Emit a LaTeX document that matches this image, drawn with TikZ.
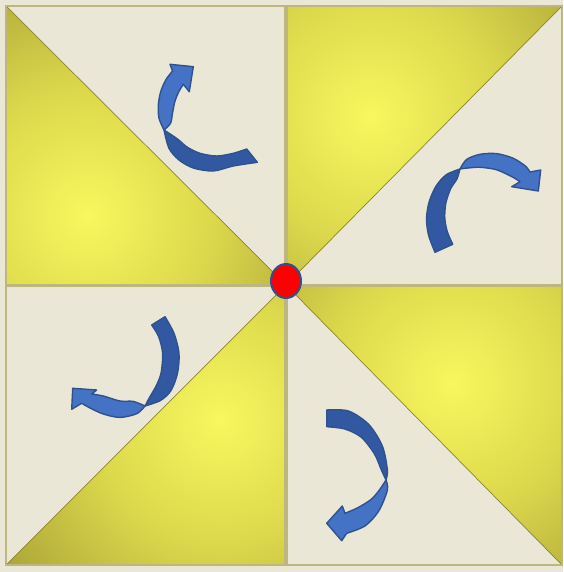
\documentclass[tikz,border=0pt]{standalone}
\usetikzlibrary{shapes.geometric}
\definecolor{cCream}{HTML}{EAE7D7}
\definecolor{cFrame}{HTML}{BDB67E}
\definecolor{cHi}{HTML}{F8F75E}
\definecolor{cMid}{HTML}{DCD84C}
\definecolor{cLo}{HTML}{A39C34}
\definecolor{cArrowLt}{HTML}{4472C4}
\definecolor{cArrowDk}{HTML}{3158A0}
\definecolor{cArrowEdge}{HTML}{2F528F}
\pgfdeclareradialshading{glow}{\pgfpointorigin}{color(0bp)=(cHi); color(11bp)=(cMid); color(25bp)=(cLo); color(50bp)=(cLo)}

\begin{document}
\begin{tikzpicture}[
  x=1pt,y=-1pt,
  frame/.style={draw=cFrame,line width=1.1pt},
  fold/.style={draw=cLo!85!black,line width=0.7pt},
  backface/.style={fill=cArrowDk,draw=cArrowEdge,line width=1.4pt,line join=round},
  frontface/.style={fill=cArrowLt,draw=cArrowEdge,line width=1.4pt,line join=round},
  hub/.style={ellipse,fill=red,draw=cArrowEdge,line width=2pt,
              minimum width=30pt,minimum height=34pt,inner sep=0pt}
]
\fill[cCream] (0,0) rectangle (563,572);
\useasboundingbox (0,0) rectangle (563,572);

% yellow halves of the four squares
\begin{scope}
  \clip (6,6) -- (6,285) -- (286,285) -- cycle;
  \shade[shading=glow] (87,215) circle (285pt);
\end{scope}
\begin{scope}
  \clip (286,6) -- (562,6) -- (286,285) -- cycle;
  \shade[shading=glow] (370,117) circle (285pt);
\end{scope}
\begin{scope}
  \clip (286,285) -- (286,565) -- (6,565) -- cycle;
  \shade[shading=glow] (220,420) circle (285pt);
\end{scope}
\begin{scope}
  \clip (286,285) -- (562,285) -- (562,565) -- cycle;
  \shade[shading=glow] (453,383) circle (285pt);
\end{scope}
\draw[fold] (6,6) -- (286,285);
\draw[fold] (562,6) -- (286,285);
\draw[fold] (6,565) -- (286,285);
\draw[fold] (562,565) -- (286,285);

\draw[frame] (6,6) rectangle (285,285);
\draw[frame] (287,6) rectangle (562,285);
\draw[frame] (6,286) rectangle (285,565);
\draw[frame] (287,286) rectangle (562,565);

% top left turn
\draw[backface] plot[smooth] coordinates {(164,130) (169,148.3) (179,160) (193.3,168) (213.3,171) (233.3,166) (257.3,162.3)}
  -- plot[smooth] coordinates {(246.7,149) (233.3,153.3) (216.7,156) (200,153.3) (187,147) (177.5,139) (164,130)} -- cycle;
\draw[frontface] plot[smooth] coordinates {(164,130) (159,118.3) (158.3,105) (160.7,91.7) (165.7,80) (172.5,71)}
  -- (170,64.3) -- (193.3,66.7) -- (189.3,91.7) --
  plot[smooth] coordinates {(183.3,84.3) (178.8,91.7) (174.8,101.7) (172.5,113.3) (170.5,123.3) (164,130)} -- cycle;

% top right turn
\draw[backface] plot[smooth] coordinates {(460,169) (446.2,174.8) (436,186.2) (429.2,201.7) (426.5,218.3) (428.5,235) (435,252.3)}
  -- plot[smooth] coordinates {(452.7,244.3) (447.3,231.7) (444.8,218.3) (445.8,203.3) (450.6,188.8) (457,178.8) (460,169)} -- cycle;
\draw[frontface] plot[smooth] coordinates {(460,169) (466.7,159.4) (480,154.3) (496.7,153.6) (513.3,158.3) (525.3,166) (530,172)}
  -- (540.7,170) -- (538.3,191) -- (511.7,186.7) --
  plot[smooth] coordinates {(520,181.7) (513,177.3) (496.7,169.8) (480,167.3) (468,168) (460,169)} -- cycle;

% bottom left turn
\draw[backface] plot[smooth] coordinates {(145,406) (160.5,400.5) (171,390.5) (177.5,373.3) (179,353.3) (174,333.3) (165,316.7)}
  -- plot[smooth] coordinates {(151.7,325) (158.7,336.7) (162.6,353.3) (161,373.3) (156,386.2) (149.5,397.5) (145,406)} -- cycle;
\draw[frontface] plot[smooth] coordinates {(145,406) (133.3,401.4) (120,401) (103.3,396) (91.7,394)}
  -- (96.7,390) -- (72.7,388.3) -- (71.7,409.3) --
  plot[smooth] coordinates {(81.7,403.3) (90,408) (103.3,414) (120,417.4) (137,413.6) (145,406)} -- cycle;

% bottom right turn
\draw[backface] plot[smooth] coordinates {(386,480) (387.4,470) (382.4,446.2) (368.8,424.5) (348.5,411) (326.7,410)}
  -- plot[smooth] coordinates {(326.7,426.7) (344.8,429) (361.2,437.2) (374.4,453.8) (381.4,470) (386,480)} -- cycle;
\draw[frontface] plot[smooth] coordinates {(386,480) (387.4,490) (379,510.6) (365.4,525.7) (346.7,533.3)}
  -- (341.7,540.7) -- (326.7,523.3) -- (342.3,506) --
  plot[smooth] coordinates {(345,513.3) (358,507.6) (371.1,499.4) (379.4,490) (386,480)} -- cycle;

\node[hub] (pivot) at (286,281) {};
\end{tikzpicture}
\end{document}
